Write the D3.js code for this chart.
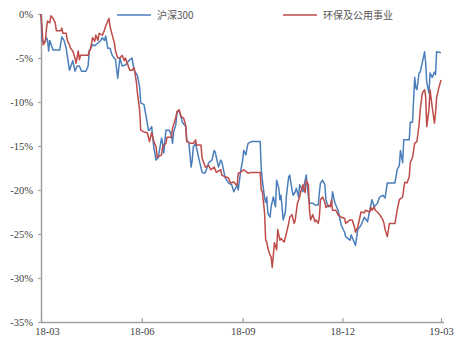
<!DOCTYPE html>
<html>
<head>
<meta charset="utf-8">
<script src="https://cdn.jsdelivr.net/npm/d3@7"></script>
<style>
  body { margin: 0; background: #fff; }
  svg { display: block; }
</style>
</head>
<body>
<div id="chart"></div>
<script>
// 沪深300 (%)
const hsDates = [
  "2018-03-01","2018-03-02","2018-03-04","2018-03-06","2018-03-07","2018-03-08","2018-03-09","2018-03-12","2018-03-18","2018-03-20","2018-03-22","2018-03-24","2018-03-27","2018-03-30",
  "2018-04-01","2018-04-03","2018-04-05","2018-04-07","2018-04-11","2018-04-13","2018-04-14","2018-04-17","2018-04-19","2018-04-22","2018-04-24","2018-04-26","2018-04-28","2018-04-29",
  "2018-05-01","2018-05-03","2018-05-05","2018-05-08","2018-05-10","2018-05-12","2018-05-14","2018-05-17","2018-05-21","2018-05-23","2018-05-25","2018-05-28","2018-05-30","2018-05-31",
  "2018-06-03","2018-06-05","2018-06-07","2018-06-08","2018-06-10","2018-06-11","2018-06-12","2018-06-14","2018-06-16","2018-06-19","2018-06-20","2018-06-21","2018-06-23","2018-06-26","2018-06-28","2018-06-29","2018-06-30",
  "2018-07-02","2018-07-03","2018-07-05","2018-07-07","2018-07-08","2018-07-11","2018-07-12","2018-07-14","2018-07-16","2018-07-17","2018-07-18","2018-07-20","2018-07-23","2018-07-26","2018-07-28","2018-07-29",
  "2018-08-01","2018-08-04","2018-08-06","2018-08-07","2018-08-10","2018-08-12","2018-08-13","2018-08-16","2018-08-19","2018-08-22","2018-08-24","2018-08-27","2018-08-28","2018-08-30",
  "2018-09-01","2018-09-02","2018-09-04","2018-09-05","2018-09-06","2018-09-09","2018-09-17","2018-09-18","2018-09-19","2018-09-21","2018-09-22","2018-09-23","2018-09-24","2018-09-26","2018-09-27","2018-09-29",
  "2018-10-01","2018-10-02","2018-10-04","2018-10-05","2018-10-06","2018-10-08","2018-10-10","2018-10-11","2018-10-13","2018-10-14","2018-10-15","2018-10-17","2018-10-19","2018-10-20","2018-10-22","2018-10-23","2018-10-26","2018-10-28","2018-10-29","2018-10-31",
  "2018-11-01","2018-11-04","2018-11-06","2018-11-09","2018-11-10","2018-11-11","2018-11-13","2018-11-15","2018-11-16","2018-11-18","2018-11-21","2018-11-22","2018-11-24","2018-11-25","2018-11-27","2018-11-30",
  "2018-12-03","2018-12-04","2018-12-08","2018-12-09","2018-12-13","2018-12-15","2018-12-18","2018-12-21","2018-12-24","2018-12-26","2018-12-28","2018-12-30",
  "2019-01-02","2019-01-04","2019-01-07","2019-01-09","2019-01-11","2019-01-18","2019-01-20","2019-01-22","2019-01-23","2019-01-25","2019-01-26","2019-01-31",
  "2019-02-01","2019-02-03","2019-02-05","2019-02-06","2019-02-07","2019-02-09","2019-02-10","2019-02-12","2019-02-14","2019-02-15","2019-02-16","2019-02-18","2019-02-19","2019-02-21","2019-02-23","2019-02-24","2019-02-25",
  "2019-03-01"
];
const hsValues = [
  0,-3.0,-3.3,-2.7,-3.0,-4.2,-3.0,-4.1,-4.1,-2.6,-3.0,-3.9,-6.4,-5.3,
  -6.5,-5.9,-5.9,-6.5,-6.5,-5.9,-4.2,-3.5,-3.6,-3.3,-3.1,-2.7,-3.0,-2.5,
  -3.9,-3.9,-4.7,-5.2,-7.3,-5.0,-5.9,-5.8,-5.2,-5.0,-6.4,-7.0,-8.3,-10.1,
  -10.3,-11.7,-13.2,-13.2,-12.8,-14.1,-15.2,-16.6,-16.3,-14.1,-14.7,-15.8,-13.2,-13.2,-13.8,-14.7,-13.4,
  -12.6,-11.3,-10.9,-11.8,-12.3,-12.8,-14.3,-14.7,-17.4,-16.6,-15.1,-14.7,-16.4,-18.0,-18.1,-18.0,
  -16.9,-16.6,-15.5,-15.7,-17.4,-16.6,-16.8,-18.6,-19.2,-19.4,-20.2,-19.4,-20.0,-18.0,
  -16.6,-15.5,-16.0,-15.2,-14.7,-14.5,-14.5,-17.7,-18.9,-20.9,-21.4,-20.8,-22.6,-23.1,-21.9,-20.8,
  -21.9,-18.9,-19.8,-21.1,-20.6,-23.4,-22.5,-20.6,-18.5,-18.3,-19.2,-20.6,-20.2,-19.8,-20.8,-19.4,-20.2,-18.9,-18.3,-20.8,
  -21.5,-21.5,-21.7,-21.7,-20.3,-19.2,-18.9,-19.4,-21.1,-21.9,-21.7,-20.2,-21.4,-21.7,-22.3,-24.0,
  -24.8,-25.3,-25.7,-25.1,-26.3,-24.5,-24.0,-23.1,-23.6,-22.3,-21.1,-21.9,
  -21.5,-20.8,-20.6,-20.9,-19.2,-19.2,-17.7,-17.2,-15.5,-16.9,-14.3,-14.3,
  -12.3,-12.3,-7.2,-8.4,-8.6,-6.7,-6.6,-5.5,-4.3,-5.5,-7.8,-9.0,-6.7,-7.2,-6.6,-6.9,-4.3,
  -4.4
];

// 环保及公用事业 (%)
const hbDates = [
  "2018-03-01","2018-03-03","2018-03-05","2018-03-06","2018-03-07","2018-03-09","2018-03-10","2018-03-12","2018-03-14","2018-03-15","2018-03-19","2018-03-20","2018-03-21","2018-03-24","2018-03-25","2018-03-27","2018-03-28","2018-03-30",
  "2018-04-01","2018-04-02","2018-04-04","2018-04-05","2018-04-06","2018-04-13","2018-04-14","2018-04-15","2018-04-17","2018-04-19","2018-04-20","2018-04-22","2018-04-23","2018-04-26","2018-04-28","2018-04-29",
  "2018-05-01","2018-05-02","2018-05-03","2018-05-05","2018-05-07","2018-05-08","2018-05-10","2018-05-12","2018-05-14","2018-05-16","2018-05-17","2018-05-21","2018-05-23","2018-05-25","2018-05-27","2018-05-28","2018-05-30","2018-05-31",
  "2018-06-03","2018-06-06","2018-06-08","2018-06-10","2018-06-11","2018-06-12","2018-06-14","2018-06-15","2018-06-19","2018-06-20","2018-06-23","2018-06-24","2018-06-28","2018-06-29",
  "2018-07-02","2018-07-03","2018-07-05","2018-07-07","2018-07-09","2018-07-11","2018-07-12","2018-07-16","2018-07-18","2018-07-20","2018-07-21","2018-07-25","2018-07-26","2018-07-29",
  "2018-08-01","2018-08-03","2018-08-06","2018-08-08","2018-08-12","2018-08-13","2018-08-16","2018-08-19","2018-08-21","2018-08-24","2018-08-26","2018-08-27","2018-08-28","2018-08-30",
  "2018-09-02","2018-09-05","2018-09-06","2018-09-08","2018-09-17","2018-09-18","2018-09-19","2018-09-21","2018-09-22","2018-09-23","2018-09-24","2018-09-26","2018-09-27","2018-09-28","2018-09-30",
  "2018-10-02","2018-10-03","2018-10-05","2018-10-06","2018-10-09","2018-10-11","2018-10-13","2018-10-14","2018-10-16","2018-10-18","2018-10-19","2018-10-21","2018-10-23","2018-10-24","2018-10-26","2018-10-28","2018-10-29","2018-10-31",
  "2018-11-01","2018-11-02","2018-11-04","2018-11-06","2018-11-07","2018-11-09","2018-11-10","2018-11-11","2018-11-13","2018-11-15","2018-11-16","2018-11-18","2018-11-20","2018-11-21","2018-11-22","2018-11-25","2018-11-27","2018-11-30",
  "2018-12-03","2018-12-04","2018-12-08","2018-12-10","2018-12-12","2018-12-13","2018-12-15","2018-12-17","2018-12-18","2018-12-21","2018-12-22","2018-12-26","2018-12-27","2018-12-28","2018-12-30","2018-12-31",
  "2019-01-02","2019-01-04","2019-01-07","2019-01-08","2019-01-09","2019-01-11","2019-01-13","2019-01-18","2019-01-20","2019-01-22","2019-01-25","2019-01-26","2019-01-27","2019-01-29","2019-01-31",
  "2019-02-01","2019-02-03","2019-02-05","2019-02-07","2019-02-09","2019-02-10","2019-02-12","2019-02-14","2019-02-15","2019-02-16","2019-02-18","2019-02-19","2019-02-21","2019-02-23","2019-02-24","2019-02-25","2019-02-27",
  "2019-03-01"
];
const hbValues = [
  0,-3.5,-3.1,-1.6,-0.8,-1.0,-0.2,-0.5,-1.0,-1.9,-1.9,-1.6,-2.2,-2.2,-3.0,-3.5,-3.9,-4.2,
  -5.0,-5.6,-4.2,-5.2,-4.7,-4.7,-4.2,-4.1,-2.7,-3.1,-2.4,-3.0,-2.2,-2.4,-1.8,-1.4,
  -0.8,-0.5,-1.4,-2.4,-3.3,-4.2,-5.0,-5.0,-4.7,-5.3,-5.0,-6.4,-6.4,-6.1,-7.7,-9.0,-10.9,-13.2,
  -13.4,-13.5,-14.5,-13.5,-14.0,-14.5,-15.1,-16.3,-16.0,-15.1,-14.7,-14.0,-14.0,-13.0,
  -11.8,-11.1,-10.9,-11.7,-11.8,-12.6,-14.5,-14.7,-14.7,-14.3,-14.9,-14.9,-16.4,-17.4,
  -17.2,-17.7,-17.4,-18.0,-17.7,-18.3,-18.5,-18.6,-19.2,-19.1,-19.4,-19.4,-18.1,-18.0,
  -17.7,-18.0,-18.1,-18.0,-18.0,-20.0,-20.2,-22.6,-25.7,-25.9,-26.6,-27.4,-27.6,-28.8,-26.0,
  -26.8,-24.5,-25.7,-25.5,-25.9,-24.9,-23.8,-23.1,-22.8,-23.8,-23.4,-21.5,-20.8,-20.2,-19.4,-20.3,-18.9,-19.4,
  -22.3,-23.4,-22.8,-23.6,-23.4,-23.8,-23.1,-21.1,-20.8,-21.4,-22.0,-21.7,-21.9,-21.1,-22.3,-22.3,-22.8,-23.1,
  -23.2,-23.8,-23.4,-23.4,-24.2,-24.8,-24.2,-23.1,-22.5,-22.6,-22.3,-22.5,-22.0,-22.3,-21.9,-22.3,
  -22.5,-22.8,-23.4,-23.8,-24.5,-25.3,-23.8,-23.8,-22.3,-21.1,-20.8,-19.8,-19.1,-19.2,-18.5,
  -16.9,-16.3,-14.7,-14.5,-12.6,-10.9,-9.0,-8.6,-9.4,-12.8,-10.9,-8.6,-10.6,-12.4,-11.3,-9.5,-8.4,
  -7.5
];

const seriesNames = ["沪深300", "环保及公用事业"];
const seriesColors = ["#4a7ebb", "#be4b48"];
const yTicks = [0, -5, -10, -15, -20, -25, -30, -35];
const xTicks = ["2018-03-01", "2018-06-01", "2018-09-01", "2018-12-01", "2019-03-01"];

const width = 457;
const height = 341;
const margin = { top: 14, left: 41, right: 13, bottom: 19 };
const iwidth = width - margin.left - margin.right;
const iheight = height - margin.top - margin.bottom;

const parse = d3.timeParse("%Y-%m-%d");

const svg = d3.select("#chart")
  .append("svg")
  .attr("width", width)
  .attr("height", height);

const g = svg.append("g")
  .attr("transform", `translate(${margin.left},${margin.top})`);

const x = d3.scaleTime()
  .domain([parse(xTicks[0]), parse(xTicks[xTicks.length - 1])])
  .range([0, iwidth - 3]);

const y = d3.scaleLinear()
  .domain([-35, 0])
  .range([iheight, 0]);

// axes
const yAxis = g.append("g")
  .call(d3.axisLeft(y).tickValues(yTicks).tickSize(3).tickSizeOuter(0).tickPadding(5)
    .tickFormat(d => d + "%"));

const xAxis = g.append("g")
  .attr("transform", `translate(0,${iheight})`)
  .call(d3.axisBottom(x).tickValues(xTicks.map(parse)).tickSize(-4).tickSizeOuter(0).tickPadding(6)
    .tickFormat(d3.timeFormat("%y-%m")));

xAxis.select(".domain").attr("d", `M0,0.5H${iwidth}`);
xAxis.select(".tick text").attr("dx", 6); // first label sits a bit right of the y axis

[xAxis, yAxis].forEach(ax => {
  ax.select(".domain").attr("stroke", "#a0a0a0").attr("stroke-width", 1.5);
  ax.selectAll(".tick line").attr("stroke", "#a0a0a0").attr("stroke-width", 1.2);
  ax.selectAll(".tick text")
    .attr("fill", "#404040")
    .style("font-family", "'Liberation Serif', 'DejaVu Serif', serif")
    .style("font-size", "10.5px");
});

// lines
const line = d3.line()
  .x(d => x(d.date))
  .y(d => y(d.value));

const series = [
  hsDates.map((d, i) => ({ date: parse(d), value: hsValues[i] })),
  hbDates.map((d, i) => ({ date: parse(d), value: hbValues[i] }))
];

series.forEach((s, i) => {
  g.append("path")
    .datum(s)
    .attr("fill", "none")
    .attr("stroke", seriesColors[i])
    .attr("stroke-width", 1.5)
    .attr("stroke-linejoin", "round")
    .attr("d", line);
});

// legend
const legendX = [117, 283];
const legend = svg.selectAll(".legend")
  .data(seriesNames)
  .enter()
  .append("g")
  .attr("class", "legend")
  .attr("transform", (d, i) => `translate(${legendX[i]},15)`);

legend.append("line")
  .attr("x1", 0)
  .attr("x2", 34)
  .attr("stroke", (d, i) => seriesColors[i])
  .attr("stroke-width", 1.5);

legend.append("text")
  .attr("x", 40)
  .attr("dy", "0.35em")
  .attr("fill", "#555")
  .style("font-family", "'Noto Sans CJK SC', sans-serif")
  .style("font-size", "10px")
  .text(d => d);
</script>
</body>
</html>
